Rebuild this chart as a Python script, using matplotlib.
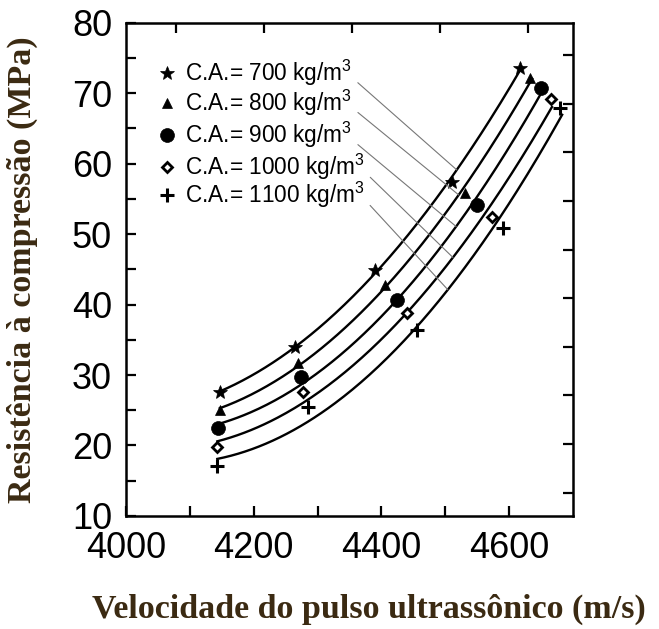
import matplotlib.pyplot as plt
import numpy as np

plt.rcParams['font.family'] = ['Liberation Sans', 'DejaVu Sans']
plt.rcParams['mathtext.fontset'] = 'custom'
plt.rcParams['mathtext.rm'] = 'Liberation Sans'

# dados: velocidade (m/s) x resistencia (MPa)
densidade = ['700', '800', '900', '1000', '1100']
marcadores = ['*', '^', 'o', 'D', '+']
vel = [[4147, 4265, 4390, 4510, 4617],
       [4147, 4269, 4406, 4531, 4633],
       [4144, 4274, 4424, 4550, 4650],
       [4143, 4277, 4440, 4573, 4666],
       [4143, 4285, 4456, 4590, 4680]]
res = [[27.6, 34.0, 44.9, 57.4, 73.5],
       [25.0, 31.7, 42.8, 55.8, 72.1],
       [22.5, 29.7, 40.6, 54.1, 70.7],
       [19.8, 27.6, 38.8, 52.4, 69.1],
       [17.1, 25.5, 36.4, 50.9, 67.9]]
fim_curva = [4620, 4636, 4651, 4667, 4683]
fim_seta = [4518, 4521, 4517, 4512, 4504]

xticks = [4000, 4200, 4400, 4600]
yticks = [10, 20, 30, 40, 50, 60, 70, 80]

estilo = {
    '*': dict(ms=10.5, mfc='black', mew=0.5),
    '^': dict(ms=7.5, mfc='black', mew=0.5),
    'o': dict(ms=10, mfc='black', mew=0.5),
    'D': dict(ms=5.5, mfc='white', mew=2.0),
    '+': dict(ms=10, mfc='black', mew=2.2),
}

fig, ax = plt.subplots(figsize=(6.59, 6.29), dpi=100)
fig.subplots_adjust(left=0.1912, right=0.8695, top=0.964, bottom=0.1797)

# linhas de ajuste + pontos
lab_y = [0.898, 0.837, 0.772, 0.707, 0.651]
for i in range(5):
    v = np.array(vel[i])
    r = np.array(res[i])
    c = np.polyfit(v, r, 2)
    vv = np.linspace(v[0], fim_curva[i], 200)
    ax.plot(vv, np.polyval(c, vv), color='black', lw=1.7)
    ax.plot(v, r, ls='none', marker=marcadores[i], color='black', **estilo[marcadores[i]])

    # legenda manual com linha de chamada
    ax.plot([0.092], [lab_y[i]], marker=marcadores[i], color='black', ls='none',
            transform=ax.transAxes, clip_on=False, **estilo[marcadores[i]])
    ax.annotate('C.A.= ' + densidade[i] + r' kg/m$^{\mathrm{3}}$',
                xy=(fim_seta[i], np.polyval(c, fim_seta[i])),
                xytext=(0.132, lab_y[i]), textcoords='axes fraction',
                fontsize=16.3, ha='left', va='center',
                arrowprops=dict(arrowstyle='-', color='#777777', lw=0.8,
                                relpos=(1.0, 0.35), shrinkA=3, shrinkB=0))

ax.set_xlim(4000, 4700)
ax.set_ylim(10, 80)
ax.set_xticks(xticks)
ax.set_xticks(np.arange(4100, 4700, 200), minor=True)
ax.set_yticks(yticks)
ax.set_yticks(np.arange(15, 80, 10), minor=True)
ax.tick_params(which='both', direction='in', length=7, width=1.6, labelsize=26)
ax.tick_params(axis='x', pad=11)
ax.tick_params(axis='y', pad=10)
for s in ax.spines.values():
    s.set_linewidth(1.8)

# marcas dos eixos direito e superior (escala diferente na figura original)
ax2 = ax.twinx()
ax2.set_ylim(10, 80)
ax2.set_yticks([75.4, 68.5, 61.6, 54.7, 47.8, 40.9, 34.0, 27.1, 20.2, 13.3])
ax2.tick_params(direction='in', length=7, width=1.6, labelright=False)
ax3 = ax.twiny()
ax3.set_xlim(4000, 4700)
ax3.set_xticks([4078, 4216, 4354, 4492, 4630])
ax3.tick_params(direction='in', length=7, width=1.6, labeltop=False)
for a in (ax2, ax3):
    for s in a.spines.values():
        s.set_visible(False)

cor = '#3b2a12'
ax.set_ylabel('Resistência à compressão (MPa)', family='Liberation Serif',
              fontweight='bold', fontsize=24.5, color=cor)
ax.yaxis.set_label_coords(-0.197, 0.5)
ax.set_xlabel('Velocidade do pulso ultrassônico (m/s)', family='Liberation Serif',
              fontweight='bold', fontsize=24.5, color=cor)
ax.xaxis.set_label_coords(0.544, -0.158)

plt.savefig('out.png', dpi=100)
